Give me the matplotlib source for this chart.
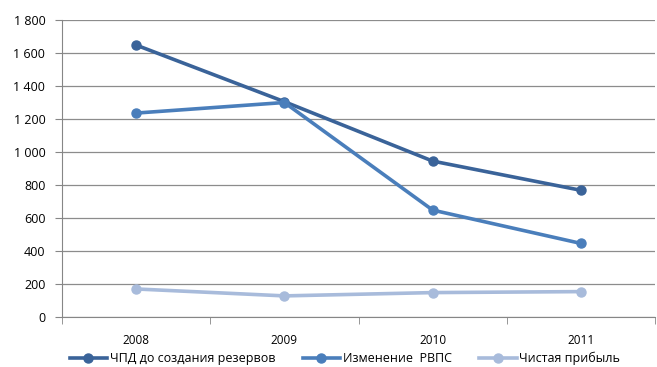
import matplotlib
matplotlib.use("Agg")
import matplotlib.pyplot as plt
import numpy as np

years = ['2008', '2009', '2010', '2011']
chpd = [1648, 1305, 945, 768]
rvps = [1236, 1300, 648, 446]
profit = [170, 128, 148, 154]
series_names = ['ЧПД до создания резервов', 'Изменение  РВПС', 'Чистая прибыль']
y_ticks = [0, 200, 400, 600, 800, 1000, 1200, 1400, 1600, 1800]

plt.rcParams['font.family'] = ['Open Sans', 'DejaVu Sans']

fig = plt.figure(figsize=(6.57, 3.67), dpi=100)
ax = fig.add_axes([0.0944, 0.1362, 0.9026, 0.8093])

x = np.arange(len(years))
colors = ['#3A6399', '#4A7EBB', '#A8BBDB']
for vals, name, c in zip([chpd, rvps, profit], series_names, colors):
    ax.plot(x, vals, color=c, lw=2.6, marker='o', ms=6.5, label=name)

ax.set_xlim(-0.5, len(years) - 0.5)
ax.set_ylim(0, 1800)
ax.set_yticks(y_ticks)
ax.set_yticklabels(['{:,}'.format(v).replace(',', ' ') for v in y_ticks], fontsize=9)
ax.set_xticks(x)
ax.set_xticklabels(years, fontsize=8.5)
ax.tick_params(axis='x', length=0, pad=12)
ax.set_xticks(np.arange(-0.5, len(years)), minor=True)
ax.tick_params(axis='x', which='minor', length=5, color='#868686')
ax.tick_params(axis='y', length=5, color='#868686', pad=7)

ax.grid(axis='y', color='#8c8c8c', lw=0.9)
ax.set_axisbelow(True)
for s in ['top', 'right']:
    ax.spines[s].set_visible(False)
for s in ['left', 'bottom']:
    ax.spines[s].set_color('#868686')

fig.legend(loc='lower center', bbox_to_anchor=(0.525, -0.025), ncol=3, frameon=False,
           fontsize=9, handlelength=3, columnspacing=2.2, handletextpad=0.2)

fig.savefig('out.png', dpi=100)
